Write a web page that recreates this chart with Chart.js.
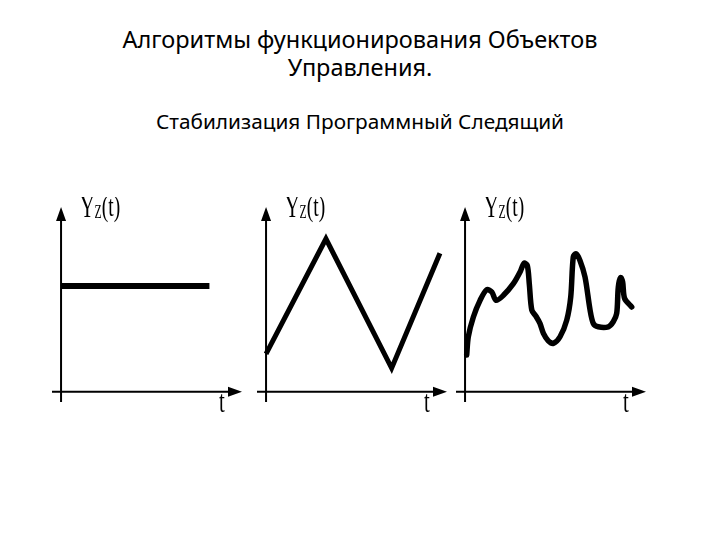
<!DOCTYPE html>
<html>
<head>
<meta charset="utf-8">
<script src="https://cdn.jsdelivr.net/npm/chart.js@4.4.1/dist/chart.umd.min.js"></script>
<style>
  body { margin: 0; background: #fff; width: 720px; height: 540px; position: relative; overflow: hidden; font-family: "Noto Sans", sans-serif; color: #000; }
  .title { position: absolute; left: 0; width: 720px; text-align: center; white-space: nowrap; }
  #t1 { top: 25px; font-size: 23.5px; line-height: 28px; }
  #t2 { top: 108px; font-size: 20.8px; line-height: 26px; }
  canvas { position: absolute; top: 197px; }
  #c1 { left: 42px; }
  #c2 { left: 247px; }
  #c3 { left: 446px; }
</style>
</head>
<body>
<div class="title" id="t1">Алгоритмы функционирования Объектов<br>Управления.</div>
<div class="title" id="t2">Стабилизация Программный Следящий</div>
<canvas id="c1" width="210" height="215"></canvas>
<canvas id="c2" width="210" height="215"></canvas>
<canvas id="c3" width="210" height="215"></canvas>
<script>
// Стабилизация
const stabT = [0, 8.2];
const stabY = [5.72, 5.72];

// Программный
const progT = [0, 3.31, 6.94, 9.61];
const progY = [2.05, 8.28, 1.28, 7.5];

// Следящий
const trackT = [0.09, 0.18, 0.46, 0.83, 1.2, 1.48, 1.71, 2.12, 2.67, 3.04, 3.26, 3.44, 3.55, 3.69, 3.92, 4.14, 4.33, 4.6, 4.88, 5.25, 5.62, 5.84, 5.98, 6.13, 6.35, 6.63, 6.91, 7.09, 7.36, 7.92, 8.19, 8.38, 8.47, 8.6, 8.71, 8.82, 9.21];
const trackY = [1.99, 2.98, 4.05, 4.95, 5.53, 5.4, 4.95, 5.22, 5.85, 6.48, 6.96, 6.84, 5.85, 4.42, 4.09, 3.7, 3.16, 2.76, 2.62, 2.98, 3.88, 5.13, 7.29, 7.47, 7.11, 6.21, 4.42, 3.7, 3.52, 3.52, 3.79, 4.24, 5.67, 6.18, 5.94, 5.05, 4.59];

const toPoints = (ts, ys) => ts.map((t, i) => ({ x: t, y: ys[i] }));

// узкий шрифт подписей, как на картинке
const SQUEEZE = 0.65;
function narrowText(ctx, text, x, y, size) {
  ctx.save();
  ctx.font = size + 'px "Liberation Serif", serif';
  ctx.translate(x, y);
  ctx.scale(SQUEEZE, 1);
  ctx.fillText(text, 0, 0);
  const w = ctx.measureText(text).width * SQUEEZE;
  ctx.restore();
  return w;
}

// оси со стрелками и подписи Yz(t), t
const arrowAxes = {
  id: 'arrowAxes',
  beforeDatasetsDraw(chart) {
    const { ctx, scales: { x, y } } = chart;
    const x0 = x.getPixelForValue(0), y0 = y.getPixelForValue(0);
    const xl = x.getPixelForValue(x.min), xr = x.getPixelForValue(x.max);
    const yb = y.getPixelForValue(y.min), yt = y.getPixelForValue(y.max);
    ctx.save();
    ctx.strokeStyle = '#000';
    ctx.fillStyle = '#000';
    ctx.lineWidth = 2;
    ctx.beginPath();
    ctx.moveTo(xl, y0); ctx.lineTo(xr - 10, y0);
    ctx.moveTo(x0, yb); ctx.lineTo(x0, yt + 10);
    ctx.stroke();
    ctx.beginPath();
    ctx.moveTo(xr, y0); ctx.lineTo(xr - 14, y0 - 5); ctx.lineTo(xr - 14, y0 + 5); ctx.closePath();
    ctx.moveTo(x0, yt); ctx.lineTo(x0 - 5, yt + 14); ctx.lineTo(x0 + 5, yt + 14); ctx.closePath();
    ctx.fill();

    ctx.textBaseline = 'alphabetic';
    ctx.textAlign = 'left';
    let lx = x0 + 19;
    const by = yt + 10;
    lx += narrowText(ctx, 'Y', lx, by, 31);
    lx += narrowText(ctx, 'Z', lx, by + 1, 18);
    narrowText(ctx, '(t)', lx, by - 1, 30);
    narrowText(ctx, 't', xr - 23, y0 + 20, 32);
    ctx.restore();
  }
};

function makeChart(id, ts, ys, width, tension, cap) {
  return new Chart(document.getElementById(id), {
    type: 'line',
    data: {
      datasets: [{
        data: toPoints(ts, ys),
        borderColor: '#000',
        borderWidth: width,
        pointRadius: 0,
        tension: tension,
        borderCapStyle: cap,
        borderJoinStyle: 'miter',
        fill: false
      }]
    },
    options: {
      responsive: false,
      animation: false,
      layout: { padding: 10 },
      plugins: { legend: { display: false }, tooltip: { enabled: false } },
      scales: {
        x: { type: 'linear', display: false, min: -0.5, max: 10 },
        y: { type: 'linear', display: false, min: -0.55, max: 10 }
      }
    },
    plugins: [arrowAxes]
  });
}

makeChart('c1', stabT, stabY, 6, 0, 'butt');
makeChart('c2', progT, progY, 5, 0, 'butt');
makeChart('c3', trackT, trackY, 5.5, 0.3, 'round');
</script>
</body>
</html>
